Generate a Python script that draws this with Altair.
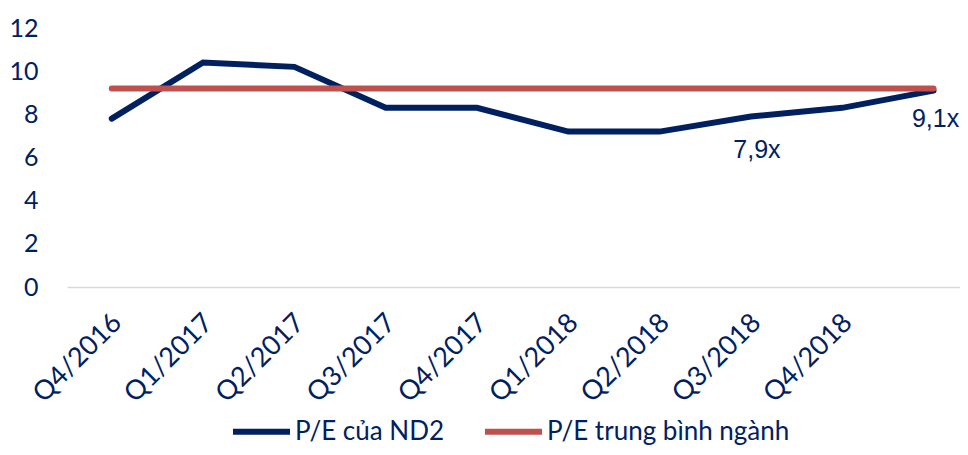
import altair as alt
import pandas as pd

quarters = ["Q4/2016", "Q1/2017", "Q2/2017", "Q3/2017", "Q4/2017",
            "Q1/2018", "Q2/2018", "Q3/2018", "Q4/2018", ""]
pe_nd2 = [7.8, 10.4, 10.2, 8.3, 8.3, 7.2, 7.2, 7.9, 8.3, 9.1]
pe_industry = [9.2, 9.2, 9.2, 9.2, 9.2, 9.2, 9.2, 9.2, 9.2, 9.2]
series_names = ["P/E của ND2", "P/E trung bình ngành"]
series_colors = ["#002060", "#C0504D"]
y_ticks = [0, 2, 4, 6, 8, 10, 12]
annotated_idx = [7, 9]

rows = []
for i, q in enumerate(quarters):
    rows.append({"idx": i, "quarter": q, "value": pe_nd2[i], "series": series_names[0]})
    rows.append({"idx": i, "quarter": q, "value": pe_industry[i], "series": series_names[1]})
df = pd.DataFrame(rows)

ann = pd.DataFrame({
    "idx": annotated_idx,
    "value": [pe_nd2[i] for i in annotated_idx],
    "label": [f"{pe_nd2[i]:.1f}".replace(".", ",") + "x" for i in annotated_idx],
})

NAVY = "#002060"
label_expr = "[" + ",".join(f"'{q}'" for q in quarters) + "][datum.value]"

x_enc = alt.X(
    "idx:Q",
    scale=alt.Scale(domain=[-0.49, 9.29], nice=False, zero=False),
    axis=alt.Axis(
        values=list(range(9)), labelExpr=label_expr, labelAngle=-45,
        labelAlign="right", labelBaseline="top", labelPadding=22, labelOffset=-4,
        labelOverlap=False, labelBound=False, labelFlush=False,
        ticks=False, tickSize=0, grid=False, domainColor="#D9D9D9", domainWidth=1.5,
        title=None, labelFont="Lato", labelFontSize=27, labelColor=NAVY,
    ),
)
y_enc = alt.Y(
    "value:Q",
    scale=alt.Scale(domain=[0, 12], nice=False, zero=True),
    axis=alt.Axis(
        values=y_ticks, ticks=False, tickSize=0, domain=False, grid=False,
        labelPadding=29, labelOverlap=False, title=None, labelFont="Lato",
        labelFontSize=25, labelColor=NAVY,
    ),
)

lines = alt.Chart(df).mark_line(strokeWidth=6, strokeCap="round").encode(
    x=x_enc,
    y=y_enc,
    color=alt.Color(
        "series:N",
        scale=alt.Scale(domain=series_names, range=series_colors),
        legend=alt.Legend(
            orient="none", legendX=163, legendY=372, direction="horizontal",
            title=None, symbolType="stroke", symbolSize=3249, symbolStrokeWidth=6,
            labelFont="Lato", labelFontSize=26, labelColor=NAVY, labelOffset=2,
            columnPadding=28, labelLimit=400,
        ),
    ),
    order=alt.Order("idx:Q"),
)

text1 = alt.Chart(ann).transform_filter(alt.datum.idx == 7).mark_text(
    font="Liberation Sans", fontSize=25, color=NAVY, dx=6, dy=34
).encode(x="idx:Q", y="value:Q", text="label:N")

text2 = alt.Chart(ann).transform_filter(alt.datum.idx == 9).mark_text(
    font="Liberation Sans", fontSize=25, color=NAVY, dx=2, dy=28
).encode(x="idx:Q", y="value:Q", text="label:N")

chart = alt.layer(lines, text1, text2).properties(
    width=893, height=259,
    autosize=alt.AutoSizeParams(type="none"),
    padding={"left": 59, "top": 20, "right": 0, "bottom": 160},
    background="white",
).configure_view(stroke=None)

chart.save("out.html", embed_options={"renderer": "svg", "actions": False})
